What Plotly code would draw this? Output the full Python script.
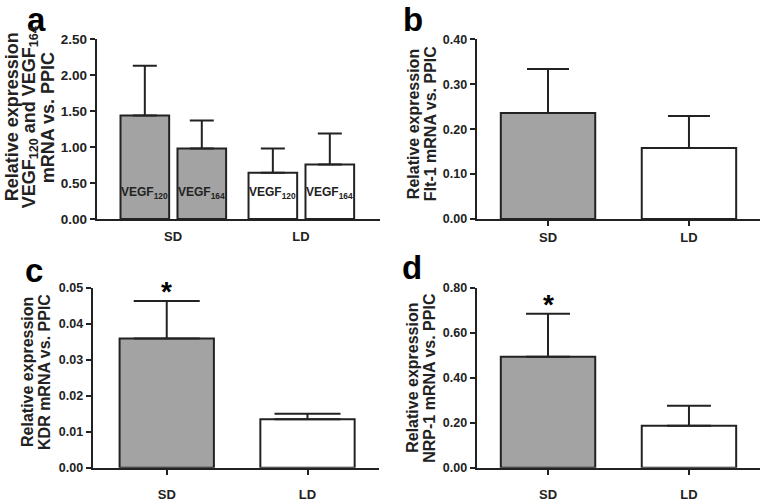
import plotly.graph_objects as go

W, H = 761, 502
FONT = "Liberation Sans, Arial, sans-serif"
INK = "#222222"
GRAY = "#a3a3a3"

groups = ["SD", "LD"]
group_colors = [GRAY, "white"]

# Panel a: VEGF isoforms
vegf120_mean = [1.44, 0.645]
vegf120_err = [0.69, 0.335]
vegf164_mean = [0.98, 0.757]
vegf164_err = [0.39, 0.433]

# Panel b: Flt-1
flt1_mean = [0.236, 0.158]
flt1_err = [0.098, 0.071]

# Panel c: KDR
kdr_mean = [0.0359, 0.0135]
kdr_err = [0.0104, 0.0015]

# Panel d: NRP-1
nrp1_mean = [0.494, 0.187]
nrp1_err = [0.191, 0.089]

a_ticks = [0, 0.5, 1.0, 1.5, 2.0, 2.5]
b_ticks = [0, 0.1, 0.2, 0.3, 0.4]
c_ticks = [0, 0.01, 0.02, 0.03, 0.04, 0.05]
d_ticks = [0, 0.2, 0.4, 0.6, 0.8]


def px(x):
    return x / W


def py(y):
    return 1 - y / H


fig = go.Figure()


def add_bar(means, errs, xa, ya, width, offset, capw):
    fig.add_trace(go.Bar(
        x=groups, y=means, xaxis=xa, yaxis=ya,
        width=width, offset=offset,
        marker=dict(color=group_colors, line=dict(color=INK, width=2)),
        error_y=dict(type="data", symmetric=False, array=errs,
                     arrayminus=[0] * len(errs), color=INK,
                     thickness=2, width=capw),
        showlegend=False, hoverinfo="skip",
    ))


# Panel a (two isoforms per group)
A_W = 0.38
A_OFF = [-0.41, 0.035]
add_bar(vegf120_mean, vegf120_err, "x", "y", A_W, A_OFF[0], 12)
add_bar(vegf164_mean, vegf164_err, "x", "y", A_W, A_OFF[1], 12)
# Panels b-d
add_bar(flt1_mean, flt1_err, "x2", "y2", 0.67, -0.335, 21)
add_bar(kdr_mean, kdr_err, "x3", "y3", 0.67, -0.335, 33)
add_bar(nrp1_mean, nrp1_err, "x4", "y4", 0.67, -0.335, 22)

tickfont_a = dict(family=FONT, size=13.5, color=INK, weight="bold")
tickfont = dict(family=FONT, size=12.5, color=INK, weight="bold")
xfont = dict(family=FONT, size=13, color=INK, weight="bold")


def xaxis(domain, rng, ticks, standoff, anchor):
    return dict(domain=domain, type="category", categoryarray=groups,
                range=rng, showline=True, linecolor=INK, linewidth=2,
                ticks="outside" if ticks else "", ticklen=5, tickwidth=2,
                tickcolor=INK, tickfont=xfont, showgrid=False,
                zeroline=False, fixedrange=True, ticklabelstandoff=standoff,
                anchor=anchor)


def yaxis(domain, top, tickvals, anchor, tf):
    return dict(domain=domain, range=[0, top], showline=True, linecolor=INK,
                linewidth=2, ticks="outside", ticklen=5, tickwidth=2,
                tickcolor=INK, tickvals=tickvals,
                ticktext=[f"{v:.2f}" for v in tickvals], tickfont=tf,
                showgrid=False, zeroline=False, anchor=anchor,
                fixedrange=True)


top_dom = [py(219), py(33.3)]
bot_dom = [py(476), py(290)]

fig.update_layout(
    width=W, height=H, margin=dict(l=0, r=0, t=0, b=0),
    paper_bgcolor="white", plot_bgcolor="white", barmode="overlay",
    xaxis=xaxis([px(96.7), px(380)], [-0.596, 1.617], False, 4, "y"),
    yaxis=yaxis(top_dom, 2.5, a_ticks, "x", tickfont_a),
    xaxis2=xaxis([px(476.7), px(760)], [-0.506, 1.504], True, 0, "y2"),
    yaxis2=yaxis(top_dom, 0.4, b_ticks, "x2", tickfont),
    xaxis3=xaxis([px(92.7), px(379)], [-0.526, 1.508], True, 9, "y3"),
    yaxis3=yaxis(bot_dom, 0.05, c_ticks, "x3", tickfont),
    xaxis4=xaxis([px(476.7), px(760)], [-0.506, 1.504], True, 9, "y4"),
    yaxis4=yaxis(bot_dom, 0.8, d_ticks, "x4", tickfont),
)

ann = []

# Panel letters
for letter, x, y in [("a", 36, 13), ("b", 413, 13), ("c", 34, 272), ("d", 412, 269)]:
    ann.append(dict(text=letter, x=px(x), y=py(y), xref="paper", yref="paper",
                    showarrow=False, xanchor="center", yanchor="middle",
                    font=dict(family=FONT, size=33, color="black", weight="bold")))

# Y-axis titles (one annotation per line)
titles = [
    (["Relative expression", "VEGF<sub>120</sub> and VEGF<sub>164</sub>", "mRNA vs. PPIC"],
     [12, 30, 48], 114, 18),
    (["Relative expression", "Flt-1 mRNA vs. PPIC"], [413, 430], 121, 16),
    (["Relative expression", "KDR mRNA vs. PPIC"], [28, 45], 377, 16),
    (["Relative expression", "NRP-1 mRNA vs. PPIC"], [413, 430], 383, 16),
]
for lines, xs, yc, fs in titles:
    for t, x in zip(lines, xs):
        ann.append(dict(text=t, x=px(x), y=py(yc), xref="paper", yref="paper",
                        showarrow=False, textangle=-90, xanchor="center",
                        yanchor="middle",
                        font=dict(family=FONT, size=fs, color=INK, weight="bold")))

# Labels inside panel-a bars
iso_labels = ["VEGF<sub>120</sub>", "VEGF<sub>164</sub>"]
for gi, g in enumerate(groups):
    for k, lab in enumerate(iso_labels):
        ann.append(dict(text=lab, x=gi + A_OFF[k] + A_W / 2, y=0.36,
                        xref="x", yref="y", showarrow=False,
                        xanchor="center", yanchor="middle",
                        font=dict(family=FONT, size=12, color=INK, weight="bold")))

# Significance stars
for xr, yr, m, e in [("x3", "y3", kdr_mean[0], kdr_err[0]),
                     ("x4", "y4", nrp1_mean[0], nrp1_err[0])]:
    ann.append(dict(text="*", x=0, y=m + e, xref=xr, yref=yr, showarrow=False,
                    xanchor="center", yanchor="bottom", yshift=-8,
                    font=dict(family=FONT, size=28, color="black", weight="bold")))

fig.update_layout(annotations=ann)
fig.write_html(
    "out.html",
    config={"displayModeBar": False},
    post_script="document.body.style.margin='0';document.body.style.overflow='hidden';",
)
